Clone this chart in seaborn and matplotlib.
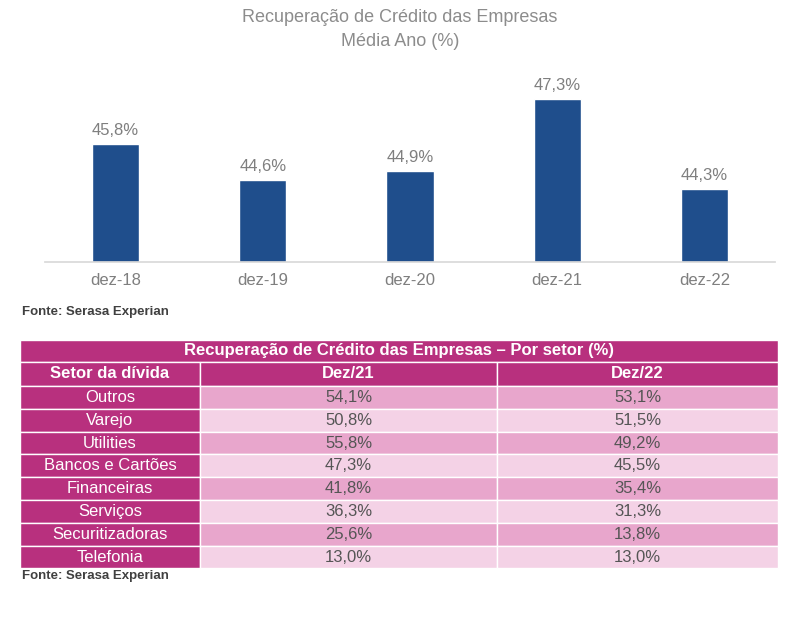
import matplotlib
matplotlib.use("Agg")
import matplotlib.pyplot as plt
import seaborn as sns
import pandas as pd
from matplotlib.patches import Rectangle

periods = ["dez-18", "dez-19", "dez-20", "dez-21", "dez-22"]
recovery = [45.8, 44.6, 44.9, 47.3, 44.3]

sectors = ["Outros", "Varejo", "Utilities", "Bancos e Cartões", "Financeiras",
           "Serviços", "Securitizadoras", "Telefonia"]
dez21 = ["54,1%", "50,8%", "55,8%", "47,3%", "41,8%", "36,3%", "25,6%", "13,0%"]
dez22 = ["53,1%", "51,5%", "49,2%", "45,5%", "35,4%", "31,3%", "13,8%", "13,0%"]

sns.set_theme(style="white")
plt.rcParams['font.family'] = ['Liberation Sans', 'DejaVu Sans']

W, H = 800, 623
fig = plt.figure(figsize=(8, 6.23), dpi=100)

# Bar chart
ax = fig.add_axes([45 / W, 1 - 262 / H, 730 / W, 202 / H])
df = pd.DataFrame({"p": periods, "v": recovery})
sns.barplot(data=df, x="p", y="v", color="#1F4E8C", saturation=1, width=0.32, ax=ax)
ax.set_ylim(41.87, 48.6)
ax.set_xlim(-0.48, 4.48)
ax.set_yticks([])
ax.set_xlabel("")
ax.set_ylabel("")
for s in ["top", "left", "right"]:
    ax.spines[s].set_visible(False)
ax.spines["bottom"].set_color("#D9D9D9")
ax.tick_params(axis="x", colors="#7F7F7F", labelsize=12, length=0, pad=8)
for i, v in enumerate(recovery):
    ax.text(i, v + 0.2, f"{v:.1f}%".replace(".", ","), ha="center", va="bottom",
            fontsize=12, color="#7F7F7F")
fig.text(0.5, 1 - 18 / H, "Recuperação de Crédito das Empresas", ha="center", va="center",
         fontsize=13, color="#8C8C8C")
fig.text(0.5, 1 - 42 / H, "Média Ano (%)", ha="center", va="center", fontsize=13, color="#8C8C8C")
fig.text(22 / W, 1 - 312 / H, "Fonte: Serasa Experian", fontsize=9.5, fontweight="bold",
         color="#404040", va="center")

# Table
tax = fig.add_axes([0, 0, 1, 1])
tax.set_xlim(0, W)
tax.set_ylim(H, 0)
tax.axis("off")
dark = "#B8307E"
rowc = ["#E8A6CC", "#F4D2E6"]
x0, x1, x2, x3 = 20, 200, 497, 778
y0 = 340
tax.add_patch(Rectangle((x0, y0), x3 - x0, 22, fc=dark, ec="white", lw=1))
tax.text((x0 + x3) / 2, y0 + 11, "Recuperação de Crédito das Empresas – Por setor (%)",
         ha="center", va="center", color="white", fontsize=12, fontweight="bold")
y = y0 + 22
for xa, xb, t in [(x0, x1, "Setor da dívida"), (x1, x2, "Dez/21"), (x2, x3, "Dez/22")]:
    tax.add_patch(Rectangle((xa, y), xb - xa, 24, fc=dark, ec="white", lw=1))
    tax.text((xa + xb) / 2, y + 12, t, ha="center", va="center", color="white",
             fontsize=12, fontweight="bold")
y += 24
rh = 22.8
for i, (s, a, b) in enumerate(zip(sectors, dez21, dez22)):
    tax.add_patch(Rectangle((x0, y), x1 - x0, rh, fc=dark, ec="white", lw=1))
    tax.text((x0 + x1) / 2, y + rh / 2, s, ha="center", va="center", color="white", fontsize=12)
    for xa, xb, t in [(x1, x2, a), (x2, x3, b)]:
        tax.add_patch(Rectangle((xa, y), xb - xa, rh, fc=rowc[i % 2], ec="white", lw=1))
        tax.text((xa + xb) / 2, y + rh / 2, t, ha="center", va="center", color="#555555",
                 fontsize=12)
    y += rh
fig.text(22 / W, 1 - 576 / H, "Fonte: Serasa Experian", fontsize=9.5, fontweight="bold",
         color="#404040", va="center")

fig.savefig("out.png", dpi=100)
